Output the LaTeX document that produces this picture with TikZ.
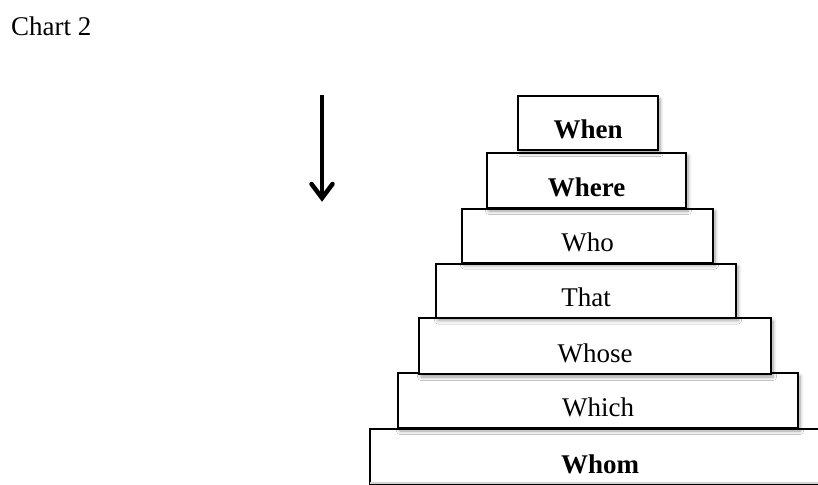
\documentclass[tikz,border=0pt]{standalone}
\usepackage{fontspec}
\setmainfont{Liberation Serif}
\usetikzlibrary{calc,shadows.blur}
\tikzset{
  tier/.style={draw=black, line width=2pt, fill=white, inner sep=0pt,
    text height=43pt, text depth=11pt,
    font=\fontsize{27}{32}\selectfont,
    blur shadow={shadow xshift=2pt, shadow yshift=-3pt, shadow blur steps=6,
      shadow opacity=40, shadow blur radius=3.5pt}},
  shaftline/.style={line width=4pt, line cap=butt},
  headline/.style={line width=4.5pt, line join=miter, line cap=round}
}
\newcommand{\tierbox}[6]{% name, x1, x2, y1, y2, text
  \node[tier, minimum width=#3pt-#2pt, minimum height=#5pt-#4pt] (#1) at ({(#2+#3)/2},{(#4+#5)/2}) {#6};}
\begin{document}
\begin{tikzpicture}[x=1pt,y=-1pt]
\useasboundingbox (0,0) rectangle (818,484);
\begin{scope}
\clip (0,0) rectangle (818,484);
\node[anchor=base west, inner sep=0pt, font=\fontsize{27}{32}\selectfont] (title) at (11,36) {Chart 2};
% bottom tier, cut by the picture edge
\node[tier, minimum width=460pt, minimum height=55pt, text depth=11pt, text height=44pt] (whom) at (600,456.5) {\bfseries Whom};
\draw[draw=gray!35, line width=1.5pt] (370,483) -- (818,483);
\tierbox{which}{398}{798}{373}{428}{Which}
\tierbox{whose}{419}{771}{318}{374}{Whose}
\tierbox{that}{436}{736}{264}{317}{That}
\tierbox{who}{462}{713}{209}{262}{Who}
\tierbox{where}{487}{686}{153}{208}{\bfseries Where}
\tierbox{when}{518}{658}{96}{150}{\bfseries When}
\coordinate (atop) at (322,95);
\coordinate (abot) at (322,198);
\draw[shaftline] (atop) -- (abot);
\draw[headline] ($(abot)+(-10.5,-14)$) -- (abot) -- ($(abot)+(10.5,-14)$);
\end{scope}
\end{tikzpicture}
\end{document}
